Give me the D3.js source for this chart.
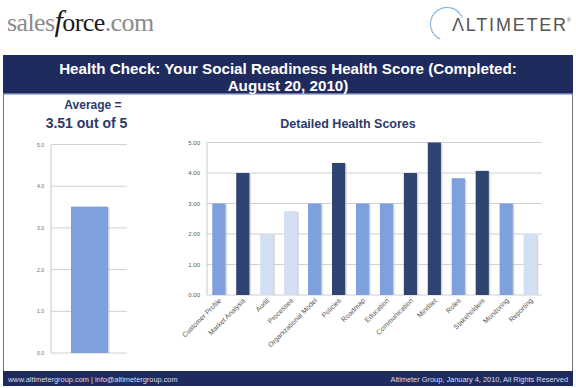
<!DOCTYPE html>
<html>
<head>
<meta charset="utf-8">
<script src="https://cdn.jsdelivr.net/npm/d3@7"></script>
<style>
  body { margin: 0; background: #fff; }
</style>
</head>
<body>
<div id="chart"></div>
<script>
// data
var categories = ["Customer Profile", "Market Analysis", "Audit", "Processes", "Organizational Model",
  "Policies", "Roadmap", "Education", "Communication", "Mindset", "Roles", "Stakeholders",
  "Monitoring", "Reporting"];
var scores = [3.0, 4.0, 2.0, 2.75, 3.0, 4.33, 3.0, 3.0, 4.0, 5.0, 3.83, 4.07, 3.0, 2.0];
var average = [3.51];
var avgTicks = [0, 1, 2, 3, 4, 5];
var detailTicks = [0, 1, 2, 3, 4, 5];

var W = 576, H = 388;
var navy = "#1f2b5d";

var svg = d3.select("#chart").append("svg")
  .attr("width", W)
  .attr("height", H)
  .attr("font-family", "Liberation Sans, Arial, sans-serif");

// logos
var sf = svg.append("text")
  .attr("x", 7)
  .attr("y", 31)
  .attr("font-family", "Liberation Serif, DejaVu Serif, serif")
  .attr("font-size", 26)
  .attr("letter-spacing", -0.6)
  .attr("fill", "#8a8a8a");
sf.append("tspan").text("sales");
sf.append("tspan").attr("fill", "#1a1a1a").attr("font-style", "italic").attr("font-size", 30).text("f");
sf.append("tspan").attr("fill", "#1a1a1a").text("orce");
sf.append("tspan").text(".com");

var logo = svg.append("g").attr("transform", "translate(447,24)");
d3.range(36).forEach(function (i) {
  var a = (-62 + i * 6.2) * Math.PI / 180;
  logo.append("circle")
    .attr("cx", -16.5 * Math.cos(a))
    .attr("cy", -16.5 * Math.sin(a))
    .attr("r", 0.8)
    .attr("fill", "#6aa2e0");
});
logo.append("text")
  .attr("x", 5)
  .attr("y", 7)
  .attr("font-size", 18)
  .attr("letter-spacing", 1.8)
  .attr("fill", "#555")
  .text("ΛLTIMETER");
logo.append("text")
  .attr("x", 120)
  .attr("y", -2)
  .attr("font-size", 5)
  .attr("fill", "#555")
  .text("®");

// frame
svg.append("rect")
  .attr("x", 3.5).attr("y", 55.5)
  .attr("width", 569).attr("height", 330)
  .attr("fill", "#fff")
  .attr("stroke", "#777");

svg.append("rect")
  .attr("x", 3).attr("y", 55)
  .attr("width", 570).attr("height", 39)
  .attr("fill", navy);
svg.append("rect")
  .attr("x", 3).attr("y", 93)
  .attr("width", 570).attr("height", 1.5)
  .attr("fill", "#6a78a8");

svg.append("text")
  .attr("x", 288).attr("y", 74)
  .attr("text-anchor", "middle")
  .attr("font-size", 15.2).attr("font-weight", "bold")
  .attr("fill", "#fff")
  .text("Health Check: Your Social Readiness Health Score (Completed:");
svg.append("text")
  .attr("x", 288).attr("y", 91)
  .attr("text-anchor", "middle")
  .attr("font-size", 15.2).attr("font-weight", "bold")
  .attr("fill", "#fff")
  .text("August 20, 2010)");

// footer
svg.append("rect")
  .attr("x", 3).attr("y", 371)
  .attr("width", 570).attr("height", 15)
  .attr("fill", navy);
svg.append("text")
  .attr("x", 8).attr("y", 381.5)
  .attr("font-size", 7.4).attr("fill", "#dde")
  .text("www.altimetergroup.com | info@altimetergroup.com");
svg.append("text")
  .attr("x", 568).attr("y", 381.5)
  .attr("text-anchor", "end")
  .attr("font-size", 7.4).attr("fill", "#dde")
  .text("Altimeter Group, January 4, 2010, All Rights Reserved");

var colorOf = d3.scaleThreshold()
  .domain([3, 4])
  .range(["#d3dff3", "#7ea0dc", "#2f4470"]);

function drawBars(g, data, x, y, fill) {
  g.selectAll("rect.shadow")
    .data(data)
    .enter().append("rect")
    .attr("class", "shadow")
    .attr("x", function (d, i) { return x(i) + 1.5; })
    .attr("y", function (d) { return y(d) + 1; })
    .attr("width", x.bandwidth())
    .attr("height", function (d) { return y(0) - y(d) - 1; })
    .attr("fill", "#bbb")
    .attr("opacity", 0.6);
  g.selectAll("rect.bar")
    .data(data)
    .enter().append("rect")
    .attr("class", "bar")
    .attr("x", function (d, i) { return x(i); })
    .attr("y", function (d) { return y(d); })
    .attr("width", x.bandwidth())
    .attr("height", function (d) { return y(0) - y(d); })
    .attr("fill", fill);
}

function drawGrid(g, ticks, y, x0, x1, fmt) {
  g.selectAll("line.grid")
    .data(ticks)
    .enter().append("line")
    .attr("class", "grid")
    .attr("x1", x0).attr("x2", x1)
    .attr("y1", function (d) { return y(d); })
    .attr("y2", function (d) { return y(d); })
    .attr("stroke", "#d0d0d0")
    .attr("stroke-width", 1);
  g.append("line")
    .attr("x1", x0).attr("x2", x0)
    .attr("y1", y(5)).attr("y2", y(0))
    .attr("stroke", "#c8c8c8");
  var ax = g.append("g")
    .attr("transform", "translate(" + x0 + ",0)")
    .call(d3.axisLeft(y).tickValues(ticks).tickFormat(fmt).tickSize(0).tickPadding(7));
  ax.select(".domain").remove();
  return ax;
}

// left: average
var left = svg.append("g");
left.append("text")
  .attr("x", 93).attr("y", 109)
  .attr("text-anchor", "middle")
  .attr("font-size", 12).attr("font-weight", "bold")
  .attr("fill", "#2b3a6b")
  .text("Average =");
left.append("text")
  .attr("x", 86.5).attr("y", 128)
  .attr("text-anchor", "middle")
  .attr("font-size", 14).attr("font-weight", "bold")
  .attr("fill", "#2b3a6b")
  .text("3.51 out of 5");

var yA = d3.scaleLinear().domain([0, 5]).range([353, 144.5]);
var xA = d3.scaleBand().domain(d3.range(average.length)).range([52, 127]).paddingInner(0).paddingOuter(0.51);
var axA = drawGrid(left, avgTicks, yA, 51, 127, d3.format(".1f"));
axA.selectAll("text").attr("font-size", 5).attr("fill", "#666");
drawBars(left, average, xA, yA, "#7ea0dc");

// right: detailed
var right = svg.append("g");
right.append("text")
  .attr("x", 348).attr("y", 128)
  .attr("text-anchor", "middle")
  .attr("font-size", 12.5).attr("font-weight", "bold")
  .attr("fill", "#2b3a6b")
  .text("Detailed Health Scores");

var yD = d3.scaleLinear().domain([0, 5]).range([295, 142.5]);
var xD = d3.scaleBand().domain(d3.range(categories.length)).range([207, 542]).paddingInner(0.45).paddingOuter(0.22);
var axD = drawGrid(right, detailTicks, yD, 207, 542, d3.format(".2f"));
axD.selectAll("text").attr("font-size", 6).attr("fill", "#555");
drawBars(right, scores, xD, yD, function (d) { return colorOf(d); });

right.selectAll("text.cat")
  .data(categories)
  .enter().append("text")
  .attr("class", "cat")
  .attr("transform", function (d, i) {
    return "translate(" + (xD(i) + xD.bandwidth() / 2 + 3) + ",301) rotate(-45)";
  })
  .attr("text-anchor", "end")
  .attr("font-size", 7)
  .attr("fill", "#555")
  .text(function (d) { return d; });
</script>
</body>
</html>
